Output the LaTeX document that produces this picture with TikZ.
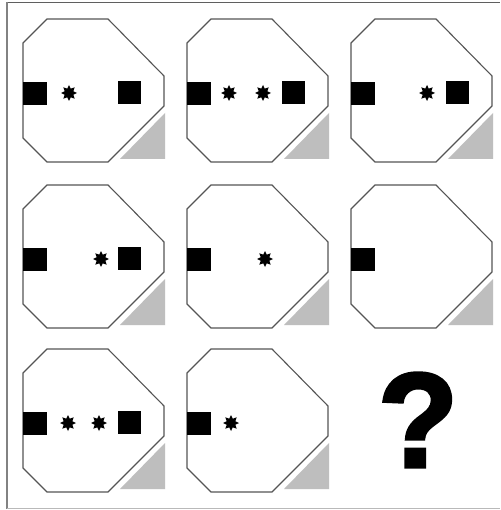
\documentclass[tikz,border=0pt]{standalone}
\usepackage{fontspec}
\setmainfont{Liberation Sans}
\newfontfamily\qfont[FakeBold=2.5]{Liberation Sans Bold}
\usepackage{graphicx}
\usetikzlibrary{shapes.geometric}
\definecolor{edgegray}{RGB}{85,85,85}
\definecolor{tri}{RGB}{190,190,190}
\definecolor{framedark}{RGB}{95,95,95}
\definecolor{framemid}{RGB}{130,130,130}
\definecolor{framelight}{RGB}{185,185,185}
\tikzset{
 octo/.style={draw=edgegray, line width=1.1pt, fill=white, line join=miter},
 corner/.style={fill=tri, draw=none},
 blk/.style={fill=black, draw=none},
 starmark/.style={star, star points=8, star point ratio=1.7, minimum size=16pt, inner sep=0pt, fill=black, draw=none}
}
\newcommand{\puzzlecell}[3]{%
 \begin{scope}[shift={(#1,#2)}]
  \fill[corner] (97,140) -- (142,94) -- (142,140) -- cycle;
  \draw[octo] (24,0) -- (85,0) -- (141,57) -- (141,87) -- (85,143) -- (24,143) -- (0,119) -- (0,24) -- cycle;
  \fill[blk] (0,63) rectangle (24,86);
  #3
 \end{scope}}
\newcommand{\rsq}{\fill[blk] (95,62) rectangle (118,85);}
\newcommand{\stx}[1]{\node[starmark] at (#1,74) {};}
\begin{document}
\begin{tikzpicture}[x=1pt,y=-1pt]
\useasboundingbox (0,0) rectangle (500,510);
\fill[white] (0,0) rectangle (500,510);
% frame
\draw[framedark, line width=1.2pt] (7,2.5) -- (500,2.5);
\draw[framemid, line width=1.2pt] (7,2) -- (7,509);
\draw[framelight, line width=1.2pt] (7,508.5) -- (500,508.5);
% row 1
\puzzlecell{23}{19}{\stx{46}\rsq}
\puzzlecell{187}{19}{\stx{42}\stx{76}\rsq}
\puzzlecell{351}{19}{\stx{76}\rsq}
% row 2
\puzzlecell{23}{185}{\stx{78}\rsq}
\puzzlecell{187}{185}{\stx{78}}
\puzzlecell{351}{185}{}
% row 3
\puzzlecell{23}{349}{\stx{45}\stx{76}\rsq}
\puzzlecell{187}{349}{\stx{44}}
\node[inner sep=0pt] (q) at (418,420) {\resizebox{80pt}{94pt}{\qfont ?}};
\end{tikzpicture}
\end{document}
